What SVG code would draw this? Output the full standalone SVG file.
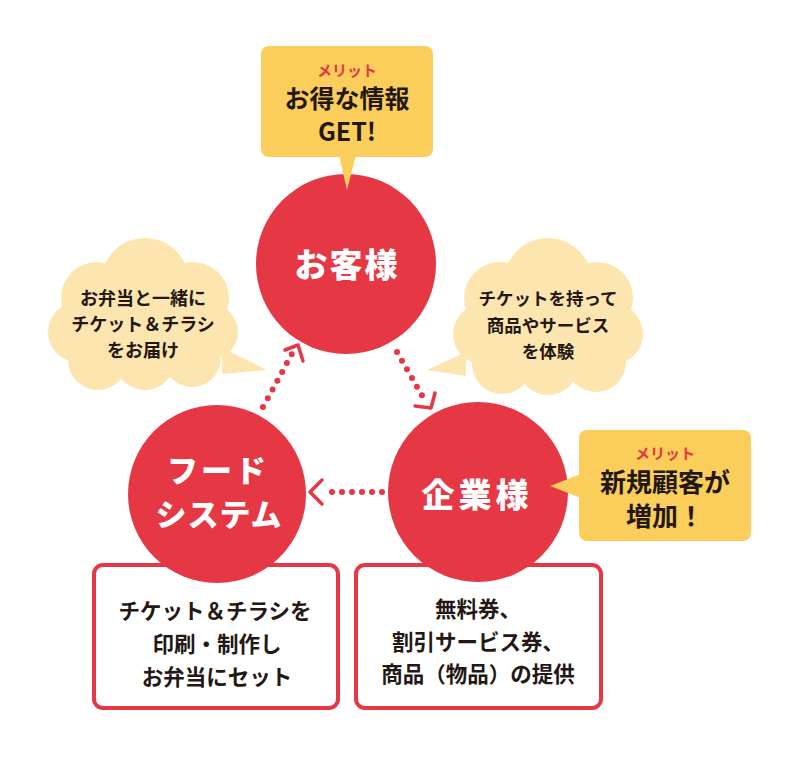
<svg xmlns="http://www.w3.org/2000/svg" width="800" height="761" viewBox="0 0 800 761">
<style>
.t{font-family:"Noto Sans CJK JP","Noto Sans",sans-serif;font-weight:700;fill:#231815;text-anchor:middle;dominant-baseline:central}
.m{fill:#E63744;font-size:15px}
.w{fill:#fff;font-weight:900}
.cloud{fill:#FDE5AF}
.callout{fill:#FBCE5C}
.node{fill:#E63744}
.box{fill:#fff;stroke:#E63744;stroke-width:4}
.dots{fill:none;stroke:#E63744;stroke-width:6;stroke-linecap:round;stroke-dasharray:0 10}
.head{fill:none;stroke:#E63744;stroke-width:3.5;stroke-linecap:round;stroke-linejoin:round}
</style>
<rect width="800" height="761" fill="#fff"/>

<g id="cloud-left">
<g class="cloud">
<polygon points="222,348 267,370 222,374"/>
<circle cx="145" cy="282" r="44"/>
<circle cx="97" cy="298" r="36"/>
<circle cx="193" cy="298" r="36"/>
<circle cx="78" cy="332" r="30"/>
<circle cx="210" cy="332" r="28"/>
<circle cx="98" cy="360" r="30"/>
<circle cx="145" cy="360" r="30"/>
<circle cx="192" cy="358" r="29"/>
<ellipse cx="145" cy="320" rx="78" ry="50"/>
</g>
<text class="t" x="143" y="297" font-size="18">お弁当と一緒に</text>
<text class="t" x="143" y="323" font-size="18">チケット＆チラシ</text>
<text class="t" x="143" y="349" font-size="18">をお届け</text>
</g>

<g id="cloud-right">
<g class="cloud">
<polygon points="466,352 427,370 466,376"/>
<circle cx="548" cy="282" r="44"/>
<circle cx="500" cy="298" r="36"/>
<circle cx="597" cy="298" r="36"/>
<circle cx="483" cy="334" r="30"/>
<circle cx="613" cy="334" r="30"/>
<circle cx="502" cy="364" r="30"/>
<circle cx="548" cy="365" r="30"/>
<circle cx="596" cy="362" r="30"/>
<ellipse cx="548" cy="322" rx="78" ry="52"/>
</g>
<text class="t" x="548" y="297" font-size="17.5">チケットを持って</text>
<text class="t" x="548" y="324" font-size="17.5">商品やサービス</text>
<text class="t" x="548" y="350" font-size="17.5">を体験</text>
</g>

<g id="box-left">
<rect class="box" x="94" y="565" width="244" height="143" rx="9"/>
<text class="t" x="215" y="609" font-size="21.5">チケット＆チラシを</text>
<text class="t" x="217" y="642" font-size="21.5">印刷・制作し</text>
<text class="t" x="217" y="675" font-size="21.5">お弁当にセット</text>
</g>

<g id="box-right">
<rect class="box" x="356" y="565" width="245" height="143" rx="9"/>
<text class="t" x="478" y="607" font-size="21.5">無料券、</text>
<text class="t" x="478" y="640" font-size="21.5">割引サービス券、</text>
<text class="t" x="478" y="672" font-size="21.5">商品（物品）の提供</text>
</g>

<g id="connectors">
<path class="dots" d="M263,407 L293,352"/>
<path class="head" d="M285,350 L298,345 L303,361"/>
<path class="dots" d="M397,352 L424,399"/>
<path class="head" d="M415,406 L431,408 L435,393"/>
<path class="dots" d="M382,492 L322,492"/>
<path class="head" d="M322,480 L310,492 L322,504"/>
</g>

<g id="node-customer">
<circle class="node" cx="346" cy="264" r="90"/>
<text class="t w" x="347" y="263" font-size="33" letter-spacing="2">お客様</text>
</g>

<g id="node-food">
<circle class="node" cx="217" cy="494" r="89"/>
<text class="t w" x="218" y="468" font-size="31" letter-spacing="3">フード</text>
<text class="t w" x="219" y="512" font-size="31" letter-spacing="1">システム</text>
</g>

<g id="node-company">
<circle class="node" cx="478" cy="492" r="90"/>
<text class="t w" x="477" y="493" font-size="33" letter-spacing="4">企業様</text>
</g>

<g id="callout-top">
<rect class="callout" x="261" y="46" width="172" height="111" rx="8"/>
<polygon class="callout" points="339,155 356,155 347,190"/>
<text class="t m" x="347" y="69">メリット</text>
<text class="t" x="347" y="97" font-size="25">お得な情報</text>
<text class="t" x="347" y="130" font-size="25">GET!</text>
</g>

<g id="callout-right">
<rect class="callout" x="579" y="430" width="172" height="111" rx="8"/>
<polygon class="callout" points="581,474 550,486 581,498"/>
<text class="t m" x="665" y="452">メリット</text>
<text class="t" x="665" y="480" font-size="26">新規顧客が</text>
<text class="t" x="665" y="514" font-size="26">増加！</text>
</g>
</svg>
